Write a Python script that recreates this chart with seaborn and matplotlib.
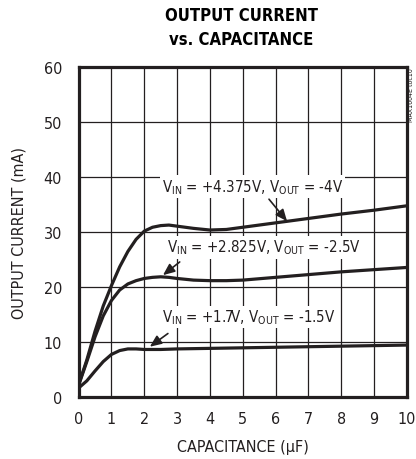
import seaborn as sns
import matplotlib.pyplot as plt
import pandas as pd

# capacitance (uF) sample points
cap_hi = [0, 0.25, 0.5, 0.75, 1, 1.25, 1.5, 1.75, 2, 2.25, 2.5, 2.75, 3, 3.5, 4, 4.5, 5, 6, 7, 8, 9, 10]
cur_hi = [2.3, 6.8, 12.0, 16.6, 20.3, 23.7, 26.5, 28.7, 30.2, 30.9, 31.2, 31.3, 31.1, 30.7, 30.4, 30.5, 30.9, 31.7, 32.5, 33.3, 34.0, 34.8]

cap_mid = [0, 0.25, 0.5, 0.75, 1, 1.25, 1.5, 1.75, 2, 2.25, 2.5, 2.75, 3, 3.5, 4, 4.5, 5, 6, 7, 8, 9, 10]
cur_mid = [2.2, 6.5, 11.0, 14.8, 17.6, 19.5, 20.6, 21.2, 21.6, 21.8, 21.9, 21.8, 21.6, 21.3, 21.2, 21.2, 21.3, 21.8, 22.3, 22.8, 23.2, 23.6]

cap_lo = [0, 0.25, 0.5, 0.75, 1, 1.25, 1.5, 1.75, 2, 2.5, 3, 4, 5, 6, 7, 8, 9, 10]
cur_lo = [1.7, 3.0, 4.8, 6.5, 7.8, 8.5, 8.8, 8.8, 8.7, 8.7, 8.8, 8.9, 9.0, 9.1, 9.2, 9.3, 9.4, 9.5]

x_ticks = [0, 1, 2, 3, 4, 5, 6, 7, 8, 9, 10]
y_ticks = [0, 10, 20, 30, 40, 50, 60]

sns.set_style("white")
plt.rcParams['font.family'] = ['DejaVu Sans']
plt.rcParams['font.stretch'] = 'condensed'
plt.rcParams['mathtext.fontset'] = 'custom'
plt.rcParams['mathtext.rm'] = 'DejaVu Sans:stretch=condensed'
plt.rcParams['mathtext.it'] = 'DejaVu Sans:stretch=condensed'

ink = '#231f20'
fs = 11.5
fs_note = 10.8

fig = plt.figure(figsize=(4.16, 4.6), dpi=100)
ax = fig.add_axes([0.189, 0.134, 0.789, 0.718])

#one line per supply condition
for caps, curs in [(cap_hi, cur_hi), (cap_mid, cur_mid), (cap_lo, cur_lo)]:
    df = pd.DataFrame({'cap': caps, 'cur': curs})
    sns.lineplot(data=df, x='cap', y='cur', ax=ax, color=ink, linewidth=2.3, zorder=4)

ax.set_xlim(0, 10)
ax.set_ylim(0, 60)
ax.set_xticks(x_ticks)
ax.set_yticks(y_ticks)
ax.grid(True, color=ink, linewidth=0.9)
ax.tick_params(length=0, labelsize=fs, colors=ink)
ax.tick_params(axis='x', pad=10)
ax.tick_params(axis='y', pad=12)
for sp in ax.spines.values():
    sp.set_linewidth(2.3)
    sp.set_color(ink)
    sp.set_zorder(5)

ax.set_xlabel('CAPACITANCE (\u00b5F)', fontsize=fs, color=ink, labelpad=9)
ax.set_ylabel('OUTPUT CURRENT (mA)', fontsize=fs, color=ink, labelpad=12)

#labels with arrows pointing to curves
box = dict(facecolor='white', edgecolor='none', pad=1.5)
arrow = dict(arrowstyle='-|>,head_length=0.7,head_width=0.3', color=ink, lw=1.2,
             shrinkA=0, shrinkB=0)
ax.text(5.3, 38.3, r'V$_{\mathrm{IN}}$ = +4.375V, V$_{\mathrm{OUT}}$ = -4V', fontsize=fs_note,
        ha='center', va='center', bbox=box, color=ink, zorder=6)
ax.annotate('', xy=(6.35, 32.0), xytext=(5.8, 36.0), arrowprops=arrow, zorder=6)

ax.text(5.65, 27.3, r'V$_{\mathrm{IN}}$ = +2.825V, V$_{\mathrm{OUT}}$ = -2.5V', fontsize=fs_note,
        ha='center', va='center', bbox=box, color=ink, zorder=6)
ax.annotate('', xy=(2.57, 22.2), xytext=(3.08, 24.6), arrowprops=arrow, zorder=6)

ax.text(5.2, 14.6, r'V$_{\mathrm{IN}}$ = +1.7V, V$_{\mathrm{OUT}}$ = -1.5V', fontsize=fs_note,
        ha='center', va='center', bbox=box, color=ink, zorder=6)
ax.annotate('', xy=(2.17, 9.2), xytext=(2.72, 11.6), arrowprops=arrow, zorder=6)

fig.text(0.58, 0.965, 'OUTPUT CURRENT', ha='center', va='center', fontsize=12,
         fontweight='bold', color='black')
fig.text(0.58, 0.913, 'vs. CAPACITANCE', ha='center', va='center', fontsize=12,
         fontweight='bold', color='black')
fig.text(0.995, 0.852, 'MAX1604E toc10', rotation=90, ha='right', va='top',
         fontsize=5, color=ink)

plt.savefig('out.png', dpi=100)
